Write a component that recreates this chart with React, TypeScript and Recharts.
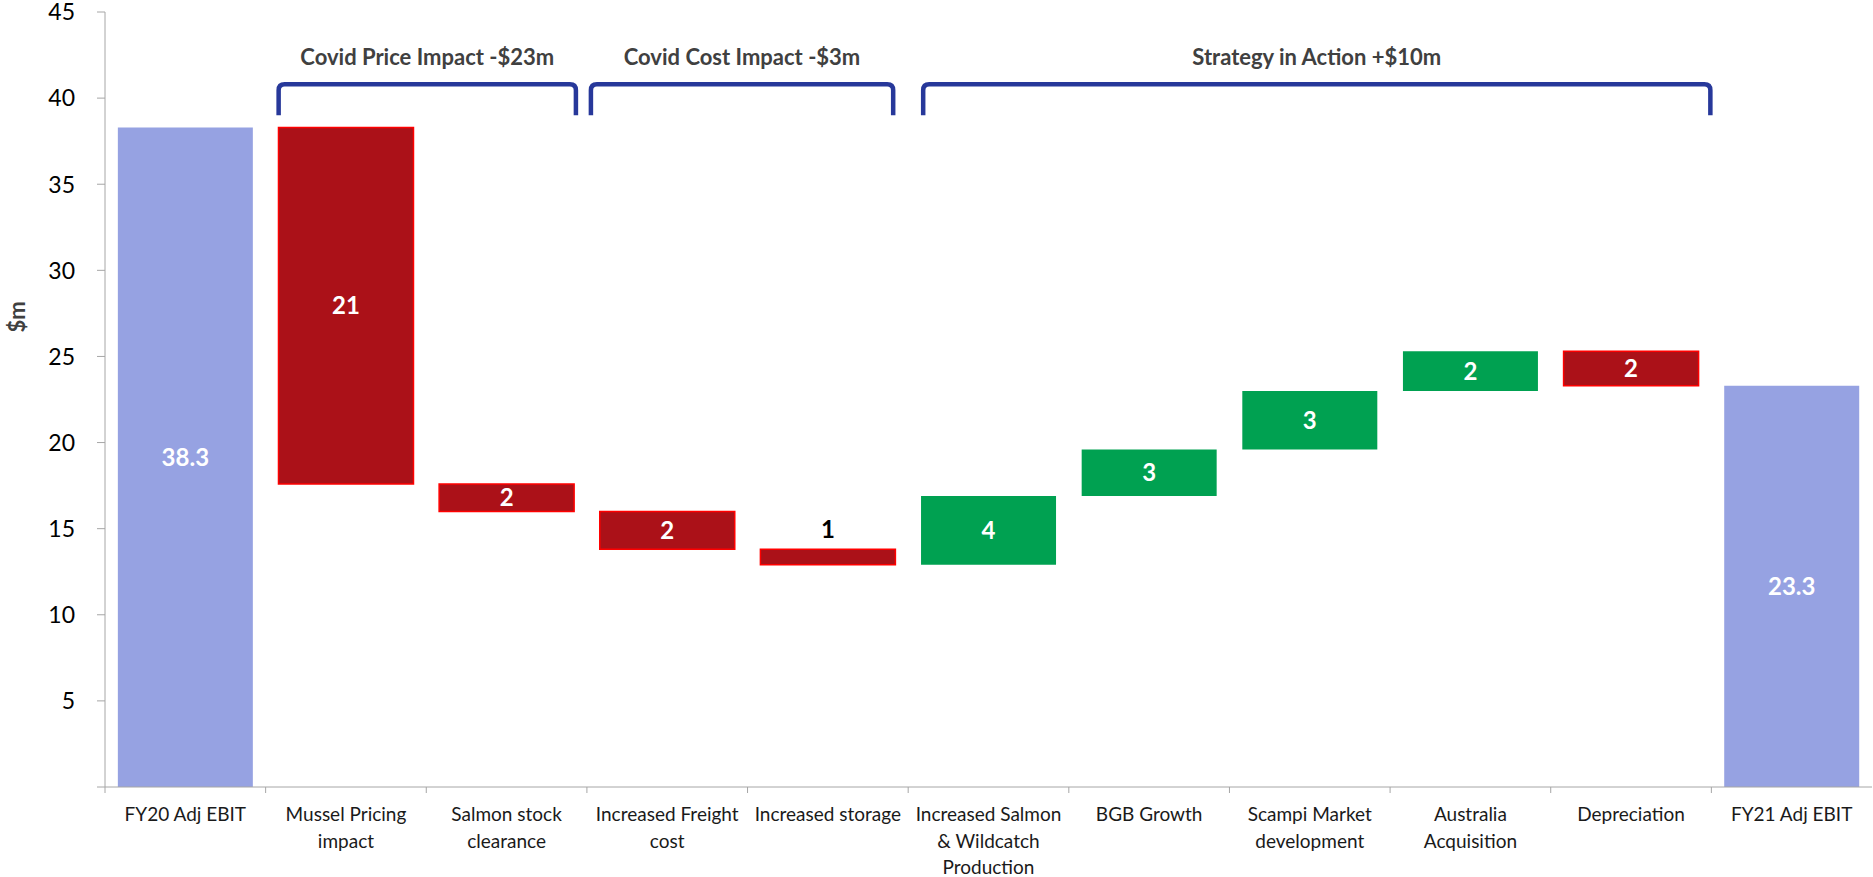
import React from "react";
import {
  BarChart,
  Bar,
  XAxis,
  YAxis,
  Cell,
  LabelList,
  ReferenceArea,
  Label,
} from "recharts";

// EBIT bridge FY20 -> FY21 ($m)
const categories = [
  "FY20 Adj EBIT",
  "Mussel Pricing\nimpact",
  "Salmon stock\nclearance",
  "Increased Freight\ncost",
  "Increased storage",
  "Increased Salmon\n& Wildcatch\nProduction",
  "BGB Growth",
  "Scampi Market\ndevelopment",
  "Australia\nAcquisition",
  "Depreciation",
  "FY21 Adj EBIT",
];

const barKinds = [
  "total",
  "delta",
  "delta",
  "delta",
  "delta",
  "delta",
  "delta",
  "delta",
  "delta",
  "delta",
  "total",
];

// totals are absolute, the rest are movements
const amounts = [38.3, -20.7, -1.6, -2.2, -0.9, 4.0, 2.7, 3.4, 2.3, -2.0, 23.3];

const yTicks = [0, 5, 10, 15, 20, 25, 30, 35, 40, 45];

const groups = [
  { from: categories[1], to: categories[2], label: "Covid Price Impact -$23m" },
  { from: categories[3], to: categories[4], label: "Covid Cost Impact -$3m" },
  { from: categories[5], to: categories[9], label: "Strategy in Action +$10m" },
];

const FONT = "Lato, 'Open Sans', sans-serif";
const TOTAL_COLOR = "#96A2E2";
const DOWN_COLOR = "#AB1118";
const UP_COLOR = "#00A151";
const BRACKET_COLOR = "#27389A";
const AXIS_COLOR = "#A6A6A6";

// pixel nudges so the brackets sit over the bars they group
const bracketInsets = [
  [13, 11],
  [4, 15],
  [15, 1],
];

type Row = {
  name: string;
  base: number;
  size: number;
  kind: string;
  labelText: string;
};

function buildRows(): Row[] {
  let running = 0;
  return categories.map((name, i) => {
    const v = amounts[i];
    if (barKinds[i] === "total") {
      running = v;
      return { name, base: 0, size: v, kind: "total", labelText: v.toFixed(1) };
    }
    const start = running;
    running = start + v;
    return {
      name,
      base: Math.min(start, running),
      size: Math.abs(v),
      kind: v < 0 ? "down" : "up",
      labelText: String(Math.round(Math.abs(v))),
    };
  });
}

const rows = buildRows();

const X_TICK_SIZE = 6;
const X_TICK_MARGIN = 4;

function CategoryTick(props: any) {
  const { x, y, payload } = props;
  const half = payload.offset ?? 0;
  const axisY = y - X_TICK_MARGIN;
  const lines = String(payload.value).split("\n");
  return (
    <g>
      <line
        x1={x - half}
        x2={x - half}
        y1={axisY}
        y2={axisY + X_TICK_SIZE}
        stroke={AXIS_COLOR}
      />
      <text
        x={x}
        y={axisY + 34}
        textAnchor="middle"
        fontFamily={FONT}
        fontSize={19}
        fill="#1a1a1a"
      >
        {lines.map((ln, i) => (
          <tspan key={i} x={x} dy={i === 0 ? 0 : 26.5}>
            {ln}
          </tspan>
        ))}
      </text>
    </g>
  );
}

function ValueTick(props: any) {
  const { x, y, payload } = props;
  if (payload.value === 0) return <g />;
  return (
    <text
      x={x}
      y={y}
      dy="0.36em"
      textAnchor="end"
      fontFamily={FONT}
      fontSize={23}
      fill="#000"
    >
      {payload.value}
    </text>
  );
}

function BarValue(props: any) {
  const { x, y, width, height, value } = props;
  const h = Number(height);
  const cx = Number(x) + Number(width) / 2;
  // thin bars get their number above in black
  const outside = h < 22;
  const cy = outside ? Number(y) - 20 : Number(y) + h / 2;
  return (
    <text
      x={cx}
      y={cy}
      dy="0.36em"
      textAnchor="middle"
      fontFamily={FONT}
      fontWeight="bold"
      fontSize={24}
      fill={outside ? "#000" : "#fff"}
    >
      {value}
    </text>
  );
}

function Bracket(props: any) {
  const { x, y, width, height, idx, label } = props;
  const [l, r] = bracketInsets[idx];
  const x0 = x + l;
  const x1 = x + width - r;
  const bottom = y + height;
  const rad = 6;
  const d = `M ${x0} ${bottom} L ${x0} ${y + rad} Q ${x0} ${y} ${x0 + rad} ${y} L ${x1 - rad} ${y} Q ${x1} ${y} ${x1} ${y + rad} L ${x1} ${bottom}`;
  return (
    <g>
      <path d={d} fill="none" stroke={BRACKET_COLOR} strokeWidth={4.5} />
      <text
        x={(x0 + x1) / 2}
        y={y - 19}
        textAnchor="middle"
        fontFamily={FONT}
        fontWeight="bold"
        fontSize={22}
        fill="#404040"
      >
        {label}
      </text>
    </g>
  );
}

export default function App() {
  return (
    <div>
      <style>{"body{margin:0}"}</style>
      <BarChart
        width={1873}
        height={877}
        data={rows}
        margin={{ top: 12, right: 1, bottom: 0, left: 0 }}
        barCategoryGap="8%"
      >
        <XAxis
          dataKey="name"
          height={90}
          interval={0}
          tickLine={false}
          tickSize={0}
          tickMargin={X_TICK_MARGIN}
          axisLine={{ stroke: AXIS_COLOR }}
          tick={<CategoryTick />}
        />
        <YAxis
          width={105}
          domain={[0, 45]}
          ticks={yTicks}
          tickSize={8}
          tickMargin={22}
          axisLine={{ stroke: AXIS_COLOR }}
          tickLine={{ stroke: AXIS_COLOR }}
          tick={<ValueTick />}
        >
          <Label
            content={(p: any) => {
              const vb = p.viewBox || { x: 0, y: 12 };
              const lx = vb.x + 17;
              const ly = vb.y + 305;
              return (
                <text
                  x={lx}
                  y={ly}
                  transform={`rotate(-90 ${lx} ${ly})`}
                  textAnchor="middle"
                  dy="0.36em"
                  fontFamily={FONT}
                  fontWeight="bold"
                  fontSize={22}
                  fill="#404040"
                >
                  $m
                </text>
              );
            }}
          />
        </YAxis>
        <Bar dataKey="base" stackId="w" fill="transparent" isAnimationActive={false} />
        <Bar dataKey="size" stackId="w" isAnimationActive={false}>
          {rows.map((row, i) => (
            <Cell
              key={i}
              fill={row.kind === "total" ? TOTAL_COLOR : row.kind === "down" ? DOWN_COLOR : UP_COLOR}
              stroke={row.kind === "down" ? "#FF0000" : "none"}
              strokeWidth={row.kind === "down" ? 1.5 : 0}
            />
          ))}
          <LabelList dataKey="labelText" content={<BarValue />} />
        </Bar>
        {groups.map((g, i) => (
          <ReferenceArea
            key={g.label}
            x1={g.from}
            x2={g.to}
            y1={39.0}
            y2={40.8}
            ifOverflow="visible"
            shape={(p: any) => <Bracket {...p} idx={i} label={g.label} />}
          />
        ))}
      </BarChart>
    </div>
  );
}
